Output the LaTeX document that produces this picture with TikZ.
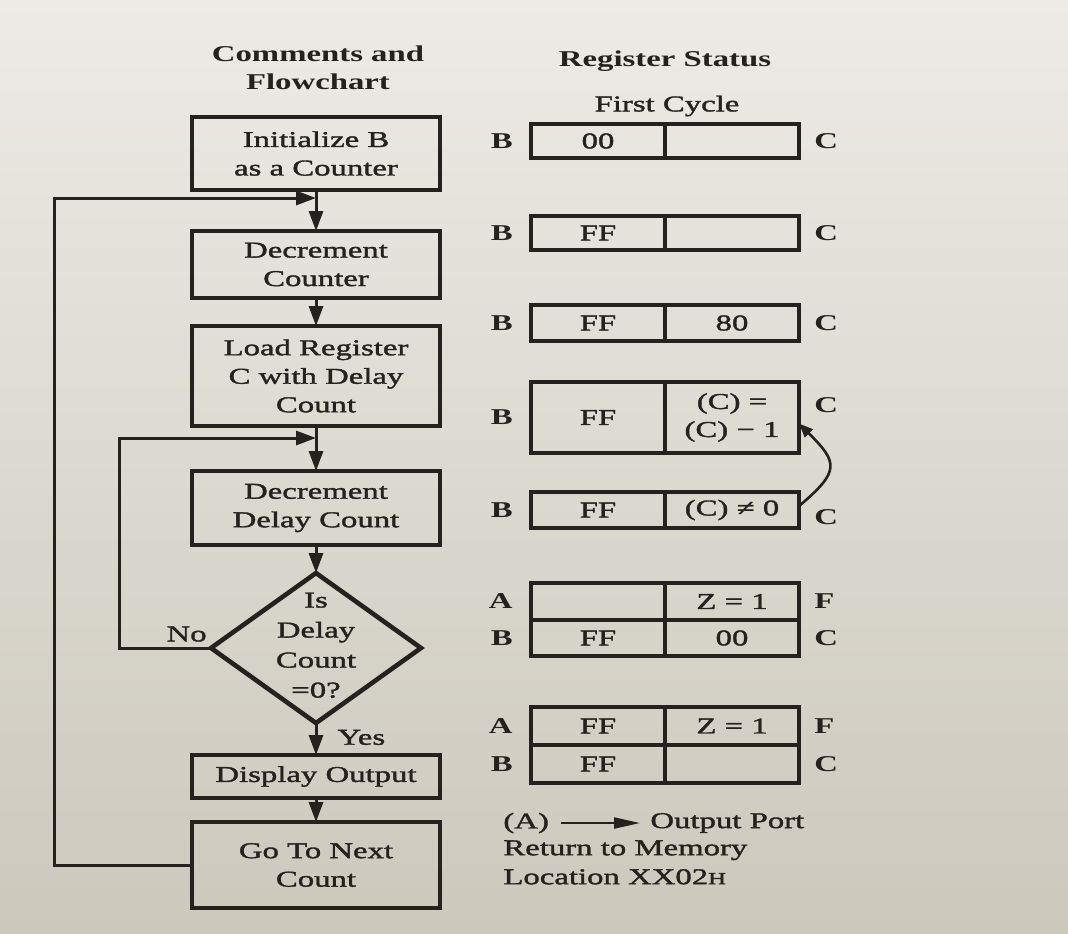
\documentclass[tikz,border=0pt]{standalone}
\usepackage{fontspec}
\setmainfont{Liberation Serif}[FakeStretch=1.45]
\newfontfamily\rsbody{Liberation Serif}[FakeStretch=1.45,FakeBold=1.6]
\usepackage{xcolor}
\definecolor{rsInk}{RGB}{36,33,30}
\definecolor{rsPaperTop}{RGB}{236,235,229}
\definecolor{rsPaperBot}{RGB}{204,200,188}
\usepackage{tikz}
\usetikzlibrary{positioning,arrows.meta,shapes.geometric}

\begin{document}
\begin{tikzpicture}[x=0.5pt,y=-0.5pt,rsInk,node distance=4pt and 8pt,
  s/.style={draw,line width=2.3pt,align=center,inner sep=0pt,outer sep=0pt,
    font=\rsbody\fontsize{11.3}{14.25}\selectfont,minimum width=124pt},
  d/.style={diamond,draw,line width=2.3pt,inner sep=0pt,outer sep=0pt,
    minimum width=105pt,minimum height=75pt,font=\rsbody\fontsize{11.3}{15}\selectfont},
  r/.style={draw,line width=2.1pt,align=center,inner sep=0pt,outer sep=0pt,
    minimum width=67pt,font=\rsbody\fontsize{11.3}{14}\selectfont},
  lb/.style={inner sep=0pt,font=\bfseries\fontsize{11.3}{14}\selectfont},
  hd/.style={align=center,inner sep=0pt,font=\bfseries\fontsize{11.3}{14}\selectfont},
  t/.style={inner sep=0pt,font=\rsbody\fontsize{11.3}{14.5}\selectfont},
  a/.style={-{Triangle[length=10pt,width=7pt]},line width=1.5pt},
  ca/.style={-{Triangle[length=7pt,width=5.5pt]},line width=1.3pt},
  pa/.style={-{Triangle[length=13pt,width=5.5pt]},line width=1.1pt}]
  % page
  \shade[top color=rsPaperTop,bottom color=rsPaperBot] (0,0) rectangle (1068,933);
  \useasboundingbox (0,0) rectangle (1068,933);
  \node[hd] (cf) at (318,68) {Comments and\\Flowchart};
  \node[hd] (rs) at (665,61) {Register Status};
  \node[t] (fc) at (667,106) {First Cycle};

  % flowchart
  \node[s,minimum height=36.5pt] (init) at (316,153.5) {Initialize B\\as a Counter};
  \node[s,minimum height=33.5pt,below=20.5pt of init] (dcnt) {Decrement\\Counter};
  \node[s,minimum height=50pt,below=14pt of dcnt] (load) {Load Register\\C with Delay\\Count};
  \node[s,minimum height=37pt,below=22.5pt of load] (ddly) {Decrement\\Delay Count};
  \node[d,below=14pt of ddly] (zero) {\smash{\raisebox{-2pt}{\begin{tabular}{@{}c@{}}Is\\Delay\\Count\\=0?\end{tabular}}}};
  \node[s,minimum height=21.5pt,below=16pt of zero] (disp) {Display Output};
  \node[s,minimum height=43pt,below=12pt of disp] (next) {Go To Next\\Count};
  \coordinate[below=4pt of init.south] (j1);
  \coordinate[below=6pt of load.south] (j2);
  \draw[a] (init) -- (dcnt);
  \draw[a] (dcnt) -- (load);
  \draw[a] (load) -- (ddly);
  \draw[a] (ddly) -- (zero);
  \draw[a] (zero) -- node[t,right=10pt,pos=0.45] (yes) {Yes} (disp);
  \draw[a] (disp) -- (next);
  \node[t,above left=3pt and 2pt of zero.west] (no) {No};
  \draw[a] (next.west) -- ++(-138,0) |- (j1);
  \draw[a] (zero.west) -- ++(-92,0) |- (j2);

  % registers
  \node[r,minimum height=17pt] (b1) at (598,141) {00};
  \node[r,minimum height=17pt,right=0pt of b1] (c1) {};
  \node[lb,left=9pt of b1] (b1l) {B};
  \node[lb,right=7.5pt of c1] (c1l) {C};

  \node[r,minimum height=17pt] (b2) at (598,233) {FF};
  \node[r,minimum height=17pt,right=0pt of b2] (c2) {};
  \node[lb,left=9pt of b2] (b2l) {B};
  \node[lb,right=7.5pt of c2] (c2l) {C};

  \node[r,minimum height=18pt] (b3) at (598,323) {FF};
  \node[r,minimum height=18pt,right=0pt of b3] (c3) {80};
  \node[lb,left=9pt of b3] (b3l) {B};
  \node[lb,right=7.5pt of c3] (c3l) {C};

  \node[r,minimum height=35.5pt] (b4) at (598,417.5) {FF};
  \node[r,minimum height=35.5pt,right=0pt of b4] (c4) {(C) =\\(C) − 1};
  \node[lb,left=9pt of b4] (b4l) {B};
  \node[lb,right=7.5pt of c4,yshift=6pt] (c4l) {C};

  \node[r,minimum height=18pt] (b5) at (598,510) {FF};
  \node[r,minimum height=18pt,right=0pt of b5] (c5) {(C) ≠ 0};
  \node[lb,left=9pt of b5] (b5l) {B};
  \node[lb,right=7.5pt of c5,yshift=-3.5pt] (c5l) {C};
  \draw[ca] ([yshift=2pt]c5.east) to[out=40,in=-45,looseness=1.7] ([yshift=-3pt]c4.east);

  \node[r,minimum height=18.25pt] (a6) at (598,601.5) {};
  \node[r,minimum height=18.25pt,right=0pt of a6] (f6) {Z = 1};
  \node[r,minimum height=18.25pt,below=0pt of a6] (b6) {FF};
  \node[r,minimum height=18.25pt,below=0pt of f6] (c6) {00};
  \node[lb,left=9pt of a6] (a6l) {A};
  \node[lb,left=9pt of b6] (b6l) {B};
  \node[lb,right=7.5pt of f6] (f6l) {F};
  \node[lb,right=7.5pt of c6] (c6l) {C};

  \node[r,minimum height=19pt] (a7) at (598,726) {FF};
  \node[r,minimum height=19pt,right=0pt of a7] (f7) {Z = 1};
  \node[r,minimum height=19pt,below=0pt of a7] (b7) {FF};
  \node[r,minimum height=19pt,below=0pt of f7] (c7) {};
  \node[lb,left=9pt of a7] (a7l) {A};
  \node[lb,left=9pt of b7] (b7l) {B};
  \node[lb,right=7.5pt of f7] (f7l) {F};
  \node[lb,right=7.5pt of c7] (c7l) {C};

  % output and return
  \node[t,anchor=west] (pA) at (503,823) {(A)};
  \node[t,anchor=west] (port) at (650,823) {Output Port};
  \draw[pa,shorten <=6pt,shorten >=5pt] (pA) -- (port);
  \node[t,align=left,anchor=north west] (ret) at (503,840) {Return to Memory\\Location XX02{\fontsize{8.5}{8}\selectfont H}};
\end{tikzpicture}
\end{document}
